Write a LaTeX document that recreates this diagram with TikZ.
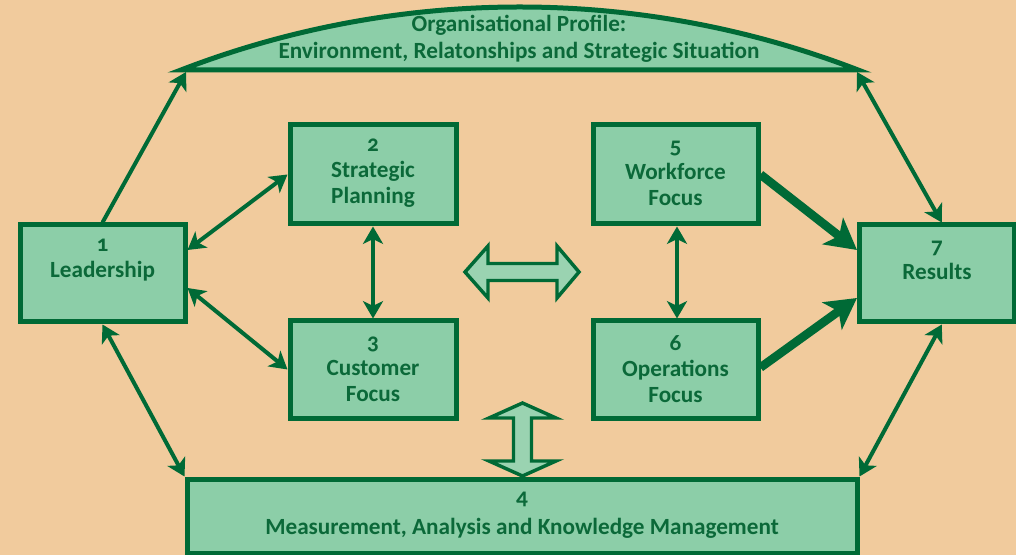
\documentclass[tikz,border=0pt]{standalone}
\usepackage{fontspec}
\setmainfont{Carlito}[Numbers=OldStyle]
\usetikzlibrary{arrows.meta}
\definecolor{bg}{HTML}{F1CB9D}
\definecolor{boxfill}{HTML}{8CCEA8}
\definecolor{dk}{HTML}{006A36}
\definecolor{txtc}{HTML}{0B6939}
\definecolor{blockfill}{HTML}{9AD3B1}

\begin{document}
\begin{tikzpicture}[x=0.75pt,y=-0.75pt,
  box/.style={draw=dk, fill=boxfill, line width=3.75pt, inner sep=0pt},
  txt/.style={text=txtc, font=\fontsize{17.4}{19.5}\selectfont\bfseries, align=center, inner sep=0pt},
  thintip/.tip={Stealth[length=13pt,width=15pt,inset=3.5pt]},
  bigtip/.tip={Stealth[length=23pt,width=25pt,inset=6pt]},
  link/.style={draw=dk, line width=3pt, thintip-thintip},
  linkone/.style={draw=dk, line width=3pt, -thintip},
  heavy/.style={draw=dk, line width=6.5pt, -bigtip},
  blk/.style={draw=dk, fill=blockfill, line width=2.6pt, line join=miter}
]
% background and frame
\fill[bg] (0,0) rectangle (1016,555);
\useasboundingbox (0,0) rectangle (1016,555);
\clip (0,0) rectangle (1016,555);

% organisational profile segment
\path[draw=dk, fill=boxfill, line width=3.75pt]
  (181,70) arc[start angle=248.91, end angle=291.09, radius=940.9] -- cycle;
\node[txt] (prof) at (519,39) {Organisational Profile:\\[0.8pt]Environment, Relatonships and Strategic Situation};
\coordinate (profL) at (186,72);
\coordinate (profR) at (857,72);

% category boxes
\node[box, minimum width=123.75pt, minimum height=72.75pt] (lead) at (102.5,273.5) {};
\node[box, minimum width=124.5pt, minimum height=74.25pt] (strat) at (373,174.5) {};
\node[box, minimum width=124.5pt, minimum height=72.75pt] (cust) at (373,369.5) {};
\node[box, minimum width=123.75pt, minimum height=74.25pt] (work) at (675.5,174.5) {};
\node[box, minimum width=123.75pt, minimum height=72.75pt] (oper) at (675.5,369.5) {};
\node[box, minimum width=115.9pt, minimum height=72.75pt] (res) at (936.75,273.5) {};

% two-way block arrows
\path[blk] (465,272) -- (488,246) -- (488,263.5) -- (557,263.5) -- (557,246) -- (579,272)
  -- (557,298) -- (557,280.5) -- (488,280.5) -- (488,298) -- cycle;
\path[blk] (522.5,403) -- (556,418) -- (531.5,418) -- (531.5,461) -- (556,461) -- (522.5,476)
  -- (489,461) -- (513.5,461) -- (513.5,418) -- (489,418) -- cycle;

\node[box, minimum width=502.5pt, minimum height=55.5pt] (meas) at (522,516) {};

% texts
\node[txt] at (102.5,260) {1\\Leadership};
\node[txt] at (373,173) {2\\Strategic\\Planning};
\node[txt] at (373,369) {3\\Customer\\Focus};
\node[txt] at (675.5,173) {5\\Workforce\\Focus};
\node[txt] at (675.5,369) {6\\Operations\\Focus};
\node[txt] at (937,260) {7\\Results};
\node[txt] at (522,515) {4\\[3pt]Measurement, Analysis and Knowledge Management};

% connectors
\draw[linkone] (lead.north) -- (profL);
\draw[link] (profR) -- ([shift={(5,0)}]res.north);
\draw[link] (lead.south) -- (meas.north west);
\draw[link] ([shift={(5,0)}]res.south) -- (meas.north east);
\draw[link] ([shift={(0,-23.5)}]lead.east) -- (strat.west);
\draw[link] ([shift={(0,14.5)}]lead.east) -- (cust.west);
\draw[link] (strat.south) -- (cust.north);
\draw[link] ([shift={(1.5,0)}]work.south) -- ([shift={(1.5,0)}]oper.north);
\draw[heavy] (work.east) -- ([shift={(0,-23.5)}]res.west);
\draw[heavy] ([shift={(0,-2)}]oper.east) -- ([shift={(0,24.5)}]res.west);
\end{tikzpicture}
\end{document}
